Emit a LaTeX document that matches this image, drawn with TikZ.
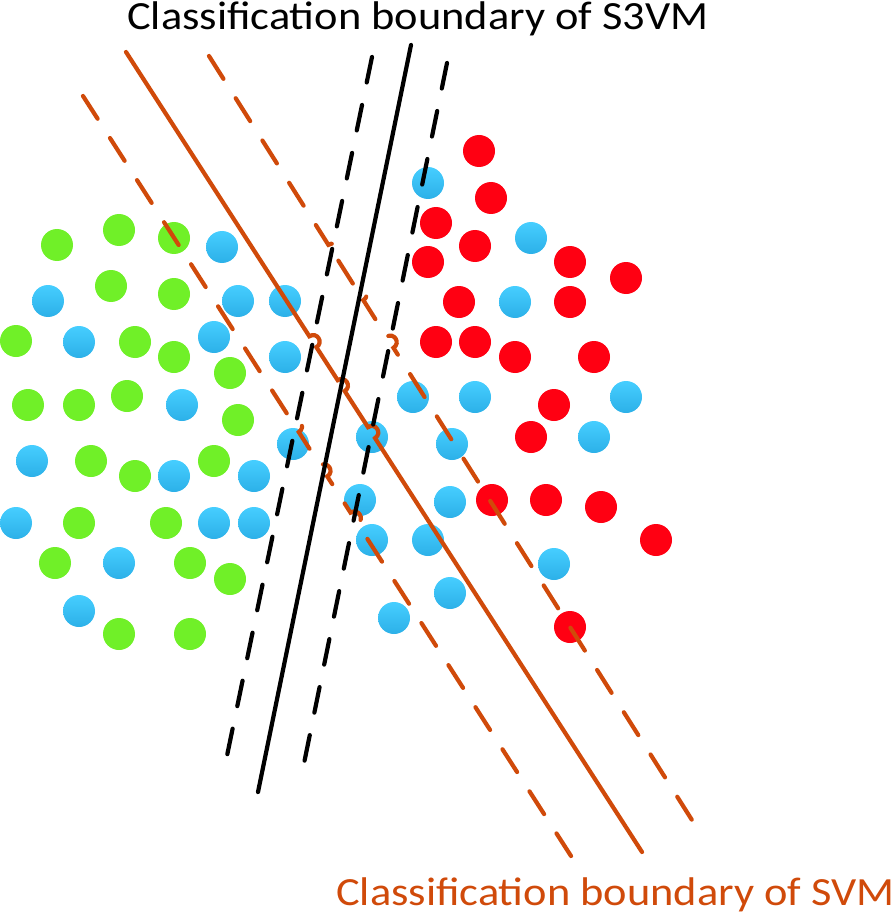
\documentclass[tikz,border=0pt]{standalone}
\usepackage{fontspec}
\setmainfont{Carlito}
\usetikzlibrary{calc,intersections}
\definecolor{svmorange}{RGB}{208,74,10}
\definecolor{dotgreen}{RGB}{112,240,40}
\definecolor{dotred}{RGB}{255,0,18}
\definecolor{bluetop}{RGB}{70,206,255}
\definecolor{bluebot}{RGB}{44,176,232}
\tikzset{
  dotbase/.style={circle,minimum size=32pt,inner sep=0pt,draw=none},
  gdot/.style={dotbase,fill=dotgreen},
  rdot/.style={dotbase,fill=dotred},
  bdot/.style={dotbase,top color=bluetop,bottom color=bluebot},
  orangeline/.style={draw=svmorange,line width=4.2pt,line cap=round},
  orangedash/.style={orangeline,dash pattern=on 27pt off 23pt},
  blackline/.style={draw=black,line width=4.2pt,line cap=round},
  blackdash/.style={blackline,dash pattern=on 26pt off 23pt},
  label/.style={anchor=base west,inner sep=0pt,xscale=1.11,font=\fontsize{40}{44}\selectfont},
}
\begin{document}
\begin{tikzpicture}[x=1pt,y=-1pt]
\useasboundingbox (0,0) rectangle (895,917);
% green dots
\foreach \px/\py [count=\i] in {57/245,119/230,174/238,111/286,174/294,16/341,135/342,174/357,230/373,28/405,79/405,127/396,238/420,91/461,135/476,214/461,79/523,166/523,55/563,190/563,230/579,119/634,190/634}
  \node[gdot] (g\i) at (\px,\py) {};
% blue dots
\foreach \px/\py [count=\i] in {222/247,48/301,238/301,285/301,79/342,214/337,285/357,182/405,293/444,372/437,413/397,428/183,32/461,174/476,254/476,16/523,214/523,254/523,119/563,79/611,360/500,372/540,428/540,394/618,450/502,450/593,531/238,515/302,475/397,626/397,594/437,452/444,554/564}
  \node[bdot] (b\i) at (\px,\py) {};
% red dots
\foreach \px/\py [count=\i] in {479/151,491/198,436/223,428/262,475/246,570/262,626/278,459/302,570/302,436/342,475/342,515/357,594/357,554/405,531/437,492/500,546/500,601/507,656/540,570/627}
  \node[rdot] (r\i) at (\px,\py) {};
% line end points
\coordinate (bl1) at (372,57);  \coordinate (bl2) at (223,775);
\coordinate (bs1) at (411,45);  \coordinate (bs2) at (258,792);
\coordinate (br1) at (447,63);  \coordinate (br2) at (300,783);
\coordinate (os1) at (126,52);  \coordinate (os2) at (642,852);
\coordinate (ol1) at (83,96);   \coordinate (ol2) at (571,856);
\coordinate (or1) at (209,56);  \coordinate (or2) at (697,828);
\path[name path=BL] (bl1) -- (bl2);
\path[name path=BS] (bs1) -- (bs2);
\path[name path=BR] (br1) -- (br2);
\path[name path=OS] (os1) -- (os2);
\path[name path=OL] (ol1) -- (ol2);
\path[name path=OR] (or1) -- (or2);
\path[name intersections={of=OS and BL,by=xOSBL}];
\path[name intersections={of=OS and BS,by=xOSBS}];
\path[name intersections={of=OS and BR,by=xOSBR}];
\path[name intersections={of=OL and BL,by=xOLBL}];
\path[name intersections={of=OL and BS,by=xOLBS}];
\path[name intersections={of=OL and BR,by=xOLBR}];
\path[name intersections={of=OR and BL,by=xORBL}];
\path[name intersections={of=OR and BS,by=xORBS}];
\path[name intersections={of=OR and BR,by=xORBR}];
% orange lines with hops
\foreach \o/\s/\e/\st in {OS/os1/os2/orangeline,OL/ol1/ol2/orangedash,OR/or1/or2/orangedash}{
  \draw[\st] (\s)
    -- ($(x\o BL)!6.5pt!(\s)$)
    .. controls ($($(x\o BL)!6.5pt!(\s)$)!9pt!90:(x\o BL)$) and ($($(x\o BL)!6.5pt!(\e)$)!9pt!-90:(x\o BL)$) .. ($(x\o BL)!6.5pt!(\e)$)
    -- ($(x\o BS)!6.5pt!(\s)$)
    .. controls ($($(x\o BS)!6.5pt!(\s)$)!9pt!90:(x\o BS)$) and ($($(x\o BS)!6.5pt!(\e)$)!9pt!-90:(x\o BS)$) .. ($(x\o BS)!6.5pt!(\e)$)
    -- ($(x\o BR)!6.5pt!(\s)$)
    .. controls ($($(x\o BR)!6.5pt!(\s)$)!9pt!90:(x\o BR)$) and ($($(x\o BR)!6.5pt!(\e)$)!9pt!-90:(x\o BR)$) .. ($(x\o BR)!6.5pt!(\e)$)
    -- (\e);
}
% black lines
\draw[blackdash] (bl1) -- (bl2);
\draw[blackline] (bs1) -- (bs2);
\draw[blackdash] (br1) -- (br2);
% labels
\node[label] (t1) at (127,30) {Classification boundary of S3VM};
\node[label,text=svmorange] (t2) at (336,905) {Classification boundary of SVM};
\end{tikzpicture}
\end{document}
